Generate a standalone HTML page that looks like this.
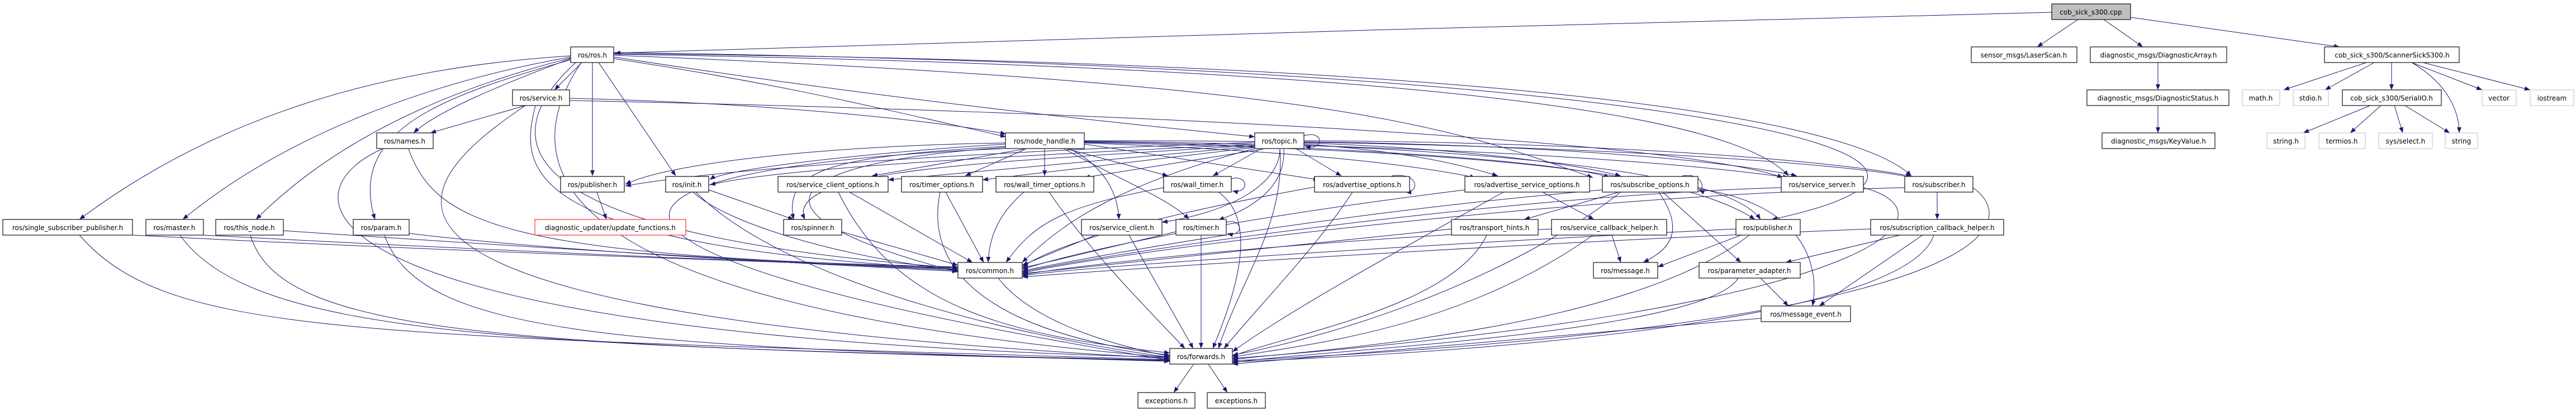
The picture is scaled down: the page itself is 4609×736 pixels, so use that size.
<!DOCTYPE html>
<html><head><meta charset="utf-8"><style>
html,body{margin:0;padding:0;background:#fff;}
svg{display:block;}
text{font-family:"DejaVu Sans","Liberation Sans",sans-serif;font-size:12px;fill:#000;text-anchor:middle;}
.n{fill:#fff;stroke:#222;stroke-width:1.3;}
.g{fill:#fff;stroke:#bfbfbf;stroke-width:1;}
.r{fill:#fff;stroke:#f00;stroke-width:1;}
.e path{fill:none;stroke:#191970;stroke-width:1;}
</style></head><body>
<svg width="4609" height="736" viewBox="0 0 4609 736" xmlns="http://www.w3.org/2000/svg">
<defs><marker id="a" markerUnits="userSpaceOnUse" markerWidth="11" markerHeight="8" refX="10" refY="4" orient="auto"><path d="M0,0 L10,4 L0,8 z" fill="#191970"/></marker></defs>
<g class="e" marker-end="url(#a)">
<path d="M3671 22 C3000 35,1600 80,1100 95" marker-end="url(#a)"/>
<path d="M3718 35 L3645 84" marker-end="url(#a)"/>
<path d="M3764 35 L3834 84" marker-end="url(#a)"/>
<path d="M3812 31 L4186 84" marker-end="url(#a)"/>
<path d="M3861 112 L3861 161" marker-end="url(#a)"/>
<path d="M3861 189 L3861 238" marker-end="url(#a)"/>
<path d="M4234 112 L4086 161" marker-end="url(#a)"/>
<path d="M4248 112 L4160 161" marker-end="url(#a)"/>
<path d="M4279 112 L4279 161" marker-end="url(#a)"/>
<path d="M4315 112 C4380 150,4400 200,4400 238" marker-end="url(#a)"/>
<path d="M4315 112 L4441 161" marker-end="url(#a)"/>
<path d="M4335 112 L4527 161" marker-end="url(#a)"/>
<path d="M4241 189 L4121 238" marker-end="url(#a)"/>
<path d="M4260 189 L4205 238" marker-end="url(#a)"/>
<path d="M4284 189 L4299 238" marker-end="url(#a)"/>
<path d="M4303 189 L4383 238" marker-end="url(#a)"/>
<path d="M1041 112 L992 161" marker-end="url(#a)"/>
<path d="M1021 105 C900 150,780 200,740 238" marker-end="url(#a)"/>
<path d="M1060 112 L1060 315" marker-end="url(#a)"/>
<path d="M1021 100 C700 120,400 200,142 393" marker-end="url(#a)"/>
<path d="M1021 102 C750 150,500 250,327 393" marker-end="url(#a)"/>
<path d="M1021 104 C800 160,600 250,458 393" marker-end="url(#a)"/>
<path d="M1021 107 C800 170,620 230,671 393" marker-end="url(#a)"/>
<path d="M1098 105 C1400 150,1600 200,1800 245" marker-end="url(#a)"/>
<path d="M1098 102 C1600 180,2000 220,2245 245" marker-end="url(#a)"/>
<path d="M1071 112 L1209 315" marker-end="url(#a)"/>
<path d="M1030 112 C880 250,900 420,1714 480" marker-end="url(#a)"/>
<path d="M1040 112 C880 350,1100 560,2093 640" marker-end="url(#a)"/>
<path d="M1098 97 C2500 120,3100 200,3200 315" marker-end="url(#a)"/>
<path d="M1098 96 C2600 110,3300 200,3420 315" marker-end="url(#a)"/>
<path d="M1098 94 C3000 120,3700 280,3170 393" marker-end="url(#a)"/>
<path d="M1098 99 C2400 150,2600 230,2850 318" marker-end="url(#a)"/>
<path d="M1800 258 C1600 270,1300 300,1270 322" marker-end="url(#a)"/>
<path d="M1800 256 C1500 260,1200 290,1119 330" marker-end="url(#a)"/>
<path d="M1800 262 C1500 280,1400 300,1420 393" marker-end="url(#a)"/>
<path d="M1832 267 L1560 315" marker-end="url(#a)"/>
<path d="M1835 267 L1727 315" marker-end="url(#a)"/>
<path d="M1869 267 L1869 315" marker-end="url(#a)"/>
<path d="M1910 267 L2090 315" marker-end="url(#a)"/>
<path d="M1940 258 L2360 322" marker-end="url(#a)"/>
<path d="M1940 256 C2300 270,2500 290,2640 318" marker-end="url(#a)"/>
<path d="M1940 254 C2400 260,2800 290,2880 318" marker-end="url(#a)"/>
<path d="M1940 253 C2600 260,3000 290,3200 318" marker-end="url(#a)"/>
<path d="M1940 252 C2700 250,3300 290,3420 318" marker-end="url(#a)"/>
<path d="M1940 255 C2600 270,3000 300,3140 393" marker-end="url(#a)"/>
<path d="M1915 267 C1980 300,2000 350,2002 393" marker-end="url(#a)"/>
<path d="M1905 267 C2000 320,2100 360,2127 393" marker-end="url(#a)"/>
<path d="M1800 264 C1400 290,1300 380,1714 487" marker-end="url(#a)"/>
<path d="M1800 266 C1000 300,900 450,2093 645" marker-end="url(#a)"/>
<path d="M2245 255 C1800 270,1300 300,1119 333" marker-end="url(#a)"/>
<path d="M2245 258 C1800 280,1400 300,1270 331" marker-end="url(#a)"/>
<path d="M2245 260 C1800 290,1400 300,1440 393" marker-end="url(#a)"/>
<path d="M2245 262 L1589 322" marker-end="url(#a)"/>
<path d="M2245 264 L1758 322" marker-end="url(#a)"/>
<path d="M2260 267 L1940 318" marker-end="url(#a)"/>
<path d="M2255 267 L2170 315" marker-end="url(#a)"/>
<path d="M2333 243 C2370 232,2370 272,2335 262" marker-end="url(#a)"/>
<path d="M2290 267 C2290 330,2200 380,2079 398" marker-end="url(#a)"/>
<path d="M2297 267 C2300 330,2250 370,2180 394" marker-end="url(#a)"/>
<path d="M2320 267 L2400 315" marker-end="url(#a)"/>
<path d="M2333 258 C2500 270,2600 290,2680 315" marker-end="url(#a)"/>
<path d="M2333 256 C2600 265,2800 290,2900 315" marker-end="url(#a)"/>
<path d="M2333 254 C2800 260,3100 290,3215 315" marker-end="url(#a)"/>
<path d="M2333 252 C2900 255,3300 290,3420 316" marker-end="url(#a)"/>
<path d="M2333 260 C2800 280,3100 320,3150 393" marker-end="url(#a)"/>
<path d="M2245 266 C2000 330,1900 400,1829 470" marker-end="url(#a)"/>
<path d="M2290 267 C2300 400,2220 500,2180 624" marker-end="url(#a)"/>
<path d="M1268 340 L1420 393" marker-end="url(#a)"/>
<path d="M1240 344 C1300 400,1500 460,1714 484" marker-end="url(#a)"/>
<path d="M1245 344 C1400 500,1800 600,2093 640" marker-end="url(#a)"/>
<path d="M1506 415 L1714 475" marker-end="url(#a)"/>
<path d="M1520 344 L1740 470" marker-end="url(#a)"/>
<path d="M1500 344 C1600 550,1800 600,2093 632" marker-end="url(#a)"/>
<path d="M1692 344 L1760 470" marker-end="url(#a)"/>
<path d="M1682 344 C1650 500,1800 600,2093 636" marker-end="url(#a)"/>
<path d="M1832 344 C1790 380,1770 420,1768 470" marker-end="url(#a)"/>
<path d="M1877 344 C1950 450,2050 550,2120 624" marker-end="url(#a)"/>
<path d="M2082 336 C1900 370,1850 400,1800 470" marker-end="url(#a)"/>
<path d="M2180 344 C2260 400,2200 550,2170 624" marker-end="url(#a)"/>
<path d="M2203 320 C2235 312,2235 348,2205 342" marker-end="url(#a)"/>
<path d="M1960 421 L1829 475" marker-end="url(#a)"/>
<path d="M2020 421 L2135 624" marker-end="url(#a)"/>
<path d="M2104 415 L1829 480" marker-end="url(#a)"/>
<path d="M2149 421 L2149 624" marker-end="url(#a)"/>
<path d="M2194 398 C2225 390,2225 426,2196 418" marker-end="url(#a)"/>
<path d="M2352 335 C2100 380,1900 430,1829 478" marker-end="url(#a)"/>
<path d="M2420 344 C2350 450,2250 550,2190 624" marker-end="url(#a)"/>
<path d="M2490 315 C2540 308,2540 345,2515 344" marker-end="url(#a)"/>
<path d="M2760 344 L2852 393" marker-end="url(#a)"/>
<path d="M2621 340 C2300 380,2000 430,1829 482" marker-end="url(#a)"/>
<path d="M2690 344 C2500 450,2300 560,2205 630" marker-end="url(#a)"/>
<path d="M2897 344 L2727 393" marker-end="url(#a)"/>
<path d="M2968 344 C3020 420,2980 450,2940 470" marker-end="url(#a)"/>
<path d="M2975 344 L3115 470" marker-end="url(#a)"/>
<path d="M3038 338 C3200 360,3260 450,3243 548" marker-end="url(#a)"/>
<path d="M2867 340 C2400 380,2000 450,1829 485" marker-end="url(#a)"/>
<path d="M2900 344 C2700 500,2400 600,2205 636" marker-end="url(#a)"/>
<path d="M3010 315 C3050 308,3050 345,3040 340" marker-end="url(#a)"/>
<path d="M3187 336 C2700 350,2000 450,1829 487" marker-end="url(#a)"/>
<path d="M3334 336 C3500 380,3400 550,2205 642" marker-end="url(#a)"/>
<path d="M3466 344 L3466 393" marker-end="url(#a)"/>
<path d="M3408 336 C2800 350,2000 450,1829 489" marker-end="url(#a)"/>
<path d="M3530 336 C3620 400,3580 580,2205 646" marker-end="url(#a)"/>
<path d="M2597 410 L1829 490" marker-end="url(#a)"/>
<path d="M2660 421 C2600 550,2300 600,2205 638" marker-end="url(#a)"/>
<path d="M2884 421 L2900 470" marker-end="url(#a)"/>
<path d="M2776 410 C2200 440,1900 480,1829 492" marker-end="url(#a)"/>
<path d="M2850 421 C2600 600,2300 620,2205 640" marker-end="url(#a)"/>
<path d="M3115 421 L2966 478" marker-end="url(#a)"/>
<path d="M3106 410 C2500 440,1900 480,1829 494" marker-end="url(#a)"/>
<path d="M3130 421 C2900 600,2300 630,2205 644" marker-end="url(#a)"/>
<path d="M3400 421 L3195 470" marker-end="url(#a)"/>
<path d="M3440 421 L3255 548" marker-end="url(#a)"/>
<path d="M3460 421 C3400 600,2400 640,2205 648" marker-end="url(#a)"/>
<path d="M3347 410 C2600 440,1900 490,1829 496" marker-end="url(#a)"/>
<path d="M3150 498 L3200 548" marker-end="url(#a)"/>
<path d="M3110 498 C3050 600,2300 630,2205 650" marker-end="url(#a)"/>
<path d="M3151 570 L2205 652" marker-end="url(#a)"/>
<path d="M1786 498 C1850 580,2000 620,2093 638" marker-end="url(#a)"/>
<path d="M2136 652 L2100 703" marker-end="url(#a)"/>
<path d="M2162 652 L2196 703" marker-end="url(#a)"/>
<path d="M940 189 L770 238" marker-end="url(#a)"/>
<path d="M958 189 C930 300,920 440,1714 482" marker-end="url(#a)"/>
<path d="M940 189 C700 350,550 560,2093 642" marker-end="url(#a)"/>
<path d="M1019 176 C1400 185,1700 220,1800 240" marker-end="url(#a)"/>
<path d="M1019 180 C2000 200,3000 250,3190 318" marker-end="url(#a)"/>
<path d="M731 267 C780 400,900 460,1714 478" marker-end="url(#a)"/>
<path d="M683 267 C500 350,520 600,2093 640" marker-end="url(#a)"/>
<path d="M237 421 C800 450,1400 470,1714 480" marker-end="url(#a)"/>
<path d="M142 421 C300 600,600 600,2093 644" marker-end="url(#a)"/>
<path d="M364 421 C900 450,1400 470,1714 482" marker-end="url(#a)"/>
<path d="M322 421 C450 600,900 620,2093 645" marker-end="url(#a)"/>
<path d="M507 413 C900 440,1400 470,1714 484" marker-end="url(#a)"/>
<path d="M448 421 C500 600,900 620,2093 646" marker-end="url(#a)"/>
<path d="M732 418 C1000 450,1400 470,1714 486" marker-end="url(#a)"/>
<path d="M688 421 C750 600,1100 620,2093 647" marker-end="url(#a)"/>
<path d="M1068 344 L1085 393" marker-end="url(#a)"/>
</g>
<g>
<rect x="3671" y="7" width="141" height="28" fill="#bfbfbf" stroke="#222" stroke-width="1.3"/><text x="3741" y="26">cob_sick_s300.cpp</text>
<rect class="n" x="3527" y="84" width="189" height="28"/><text x="3621" y="103">sensor_msgs/LaserScan.h</text>
<rect class="n" x="3740" y="84" width="244" height="28"/><text x="3862" y="103">diagnostic_msgs/DiagnosticArray.h</text>
<rect class="n" x="4159" y="84" width="241" height="28"/><text x="4280" y="103">cob_sick_s300/ScannerSickS300.h</text>
<rect class="n" x="3734" y="161" width="254" height="28"/><text x="3861" y="180">diagnostic_msgs/DiagnosticStatus.h</text>
<rect class="n" x="3761" y="238" width="202" height="28"/><text x="3862" y="257">diagnostic_msgs/KeyValue.h</text>
<rect class="g" x="4012" y="161" width="67" height="28"/><text x="4045" y="180">math.h</text>
<rect class="g" x="4103" y="161" width="63" height="28"/><text x="4134" y="180">stdio.h</text>
<rect class="n" x="4191" y="161" width="177" height="28"/><text x="4279" y="180">cob_sick_s300/SerialIO.h</text>
<rect class="g" x="4441" y="161" width="61" height="28"/><text x="4471" y="180">vector</text>
<rect class="g" x="4527" y="161" width="78" height="28"/><text x="4566" y="180">iostream</text>
<rect class="g" x="4056" y="238" width="68" height="28"/><text x="4090" y="257">string.h</text>
<rect class="g" x="4149" y="238" width="83" height="28"/><text x="4190" y="257">termios.h</text>
<rect class="g" x="4256" y="238" width="96" height="28"/><text x="4304" y="257">sys/select.h</text>
<rect class="g" x="4375" y="238" width="58" height="28"/><text x="4404" y="257">string</text>
<rect class="n" x="1021" y="84" width="77" height="28"/><text x="1060" y="103">ros/ros.h</text>
<rect class="n" x="917" y="161" width="102" height="28"/><text x="968" y="180">ros/service.h</text>
<rect class="n" x="674" y="238" width="101" height="28"/><text x="724" y="257">ros/names.h</text>
<rect class="n" x="1799" y="238" width="141" height="28"/><text x="1869" y="257">ros/node_handle.h</text>
<rect class="n" x="2245" y="238" width="88" height="28"/><text x="2289" y="257">ros/topic.h</text>
<rect class="n" x="1003" y="316" width="114" height="28"/><text x="1060" y="335">ros/publisher.h</text>
<rect class="n" x="1191" y="316" width="77" height="28"/><text x="1229" y="335">ros/init.h</text>
<rect class="n" x="1392" y="316" width="197" height="28"/><text x="1490" y="335">ros/service_client_options.h</text>
<rect class="n" x="1613" y="316" width="145" height="28"/><text x="1685" y="335">ros/timer_options.h</text>
<rect class="n" x="1782" y="316" width="175" height="28"/><text x="1869" y="335">ros/wall_timer_options.h</text>
<rect class="n" x="2082" y="316" width="121" height="28"/><text x="2142" y="335">ros/wall_timer.h</text>
<rect class="n" x="2352" y="316" width="170" height="28"/><text x="2437" y="335">ros/advertise_options.h</text>
<rect class="n" x="2621" y="316" width="223" height="28"/><text x="2732" y="335">ros/advertise_service_options.h</text>
<rect class="n" x="2867" y="316" width="171" height="28"/><text x="2952" y="335">ros/subscribe_options.h</text>
<rect class="n" x="3187" y="316" width="147" height="28"/><text x="3260" y="335">ros/service_server.h</text>
<rect class="n" x="3408" y="316" width="122" height="28"/><text x="3469" y="335">ros/subscriber.h</text>
<rect class="n" x="5" y="393" width="232" height="28"/><text x="121" y="412">ros/single_subscriber_publisher.h</text>
<rect class="n" x="261" y="393" width="103" height="28"/><text x="312" y="412">ros/master.h</text>
<rect class="n" x="386" y="393" width="121" height="28"/><text x="446" y="412">ros/this_node.h</text>
<rect class="n" x="632" y="393" width="100" height="28"/><text x="682" y="412">ros/param.h</text>
<rect class="r" x="957" y="393" width="270" height="28"/><text x="1092" y="412">diagnostic_updater/update_functions.h</text>
<rect class="n" x="1402" y="393" width="104" height="28"/><text x="1454" y="412">ros/spinner.h</text>
<rect class="n" x="1935" y="393" width="144" height="28"/><text x="2007" y="412">ros/service_client.h</text>
<rect class="n" x="2104" y="393" width="90" height="28"/><text x="2149" y="412">ros/timer.h</text>
<rect class="n" x="2597" y="393" width="155" height="28"/><text x="2674" y="412">ros/transport_hints.h</text>
<rect class="n" x="2776" y="393" width="206" height="28"/><text x="2879" y="412">ros/service_callback_helper.h</text>
<rect class="n" x="3106" y="393" width="115" height="28"/><text x="3163" y="412">ros/publisher.h</text>
<rect class="n" x="3347" y="393" width="238" height="28"/><text x="3466" y="412">ros/subscription_callback_helper.h</text>
<rect class="n" x="1714" y="470" width="115" height="28"/><text x="1771" y="489">ros/common.h</text>
<rect class="n" x="2851" y="470" width="115" height="28"/><text x="2908" y="489">ros/message.h</text>
<rect class="n" x="3040" y="470" width="181" height="28"/><text x="3130" y="489">ros/parameter_adapter.h</text>
<rect class="n" x="3151" y="548" width="160" height="28"/><text x="3231" y="567">ros/message_event.h</text>
<rect class="n" x="2093" y="624" width="112" height="28"/><text x="2149" y="643">ros/forwards.h</text>
<rect class="n" x="2036" y="703" width="102" height="28"/><text x="2087" y="722">exceptions.h</text>
<rect class="n" x="2160" y="703" width="104" height="28"/><text x="2212" y="722">exceptions.h</text>
</g>
</svg>
</body></html>
